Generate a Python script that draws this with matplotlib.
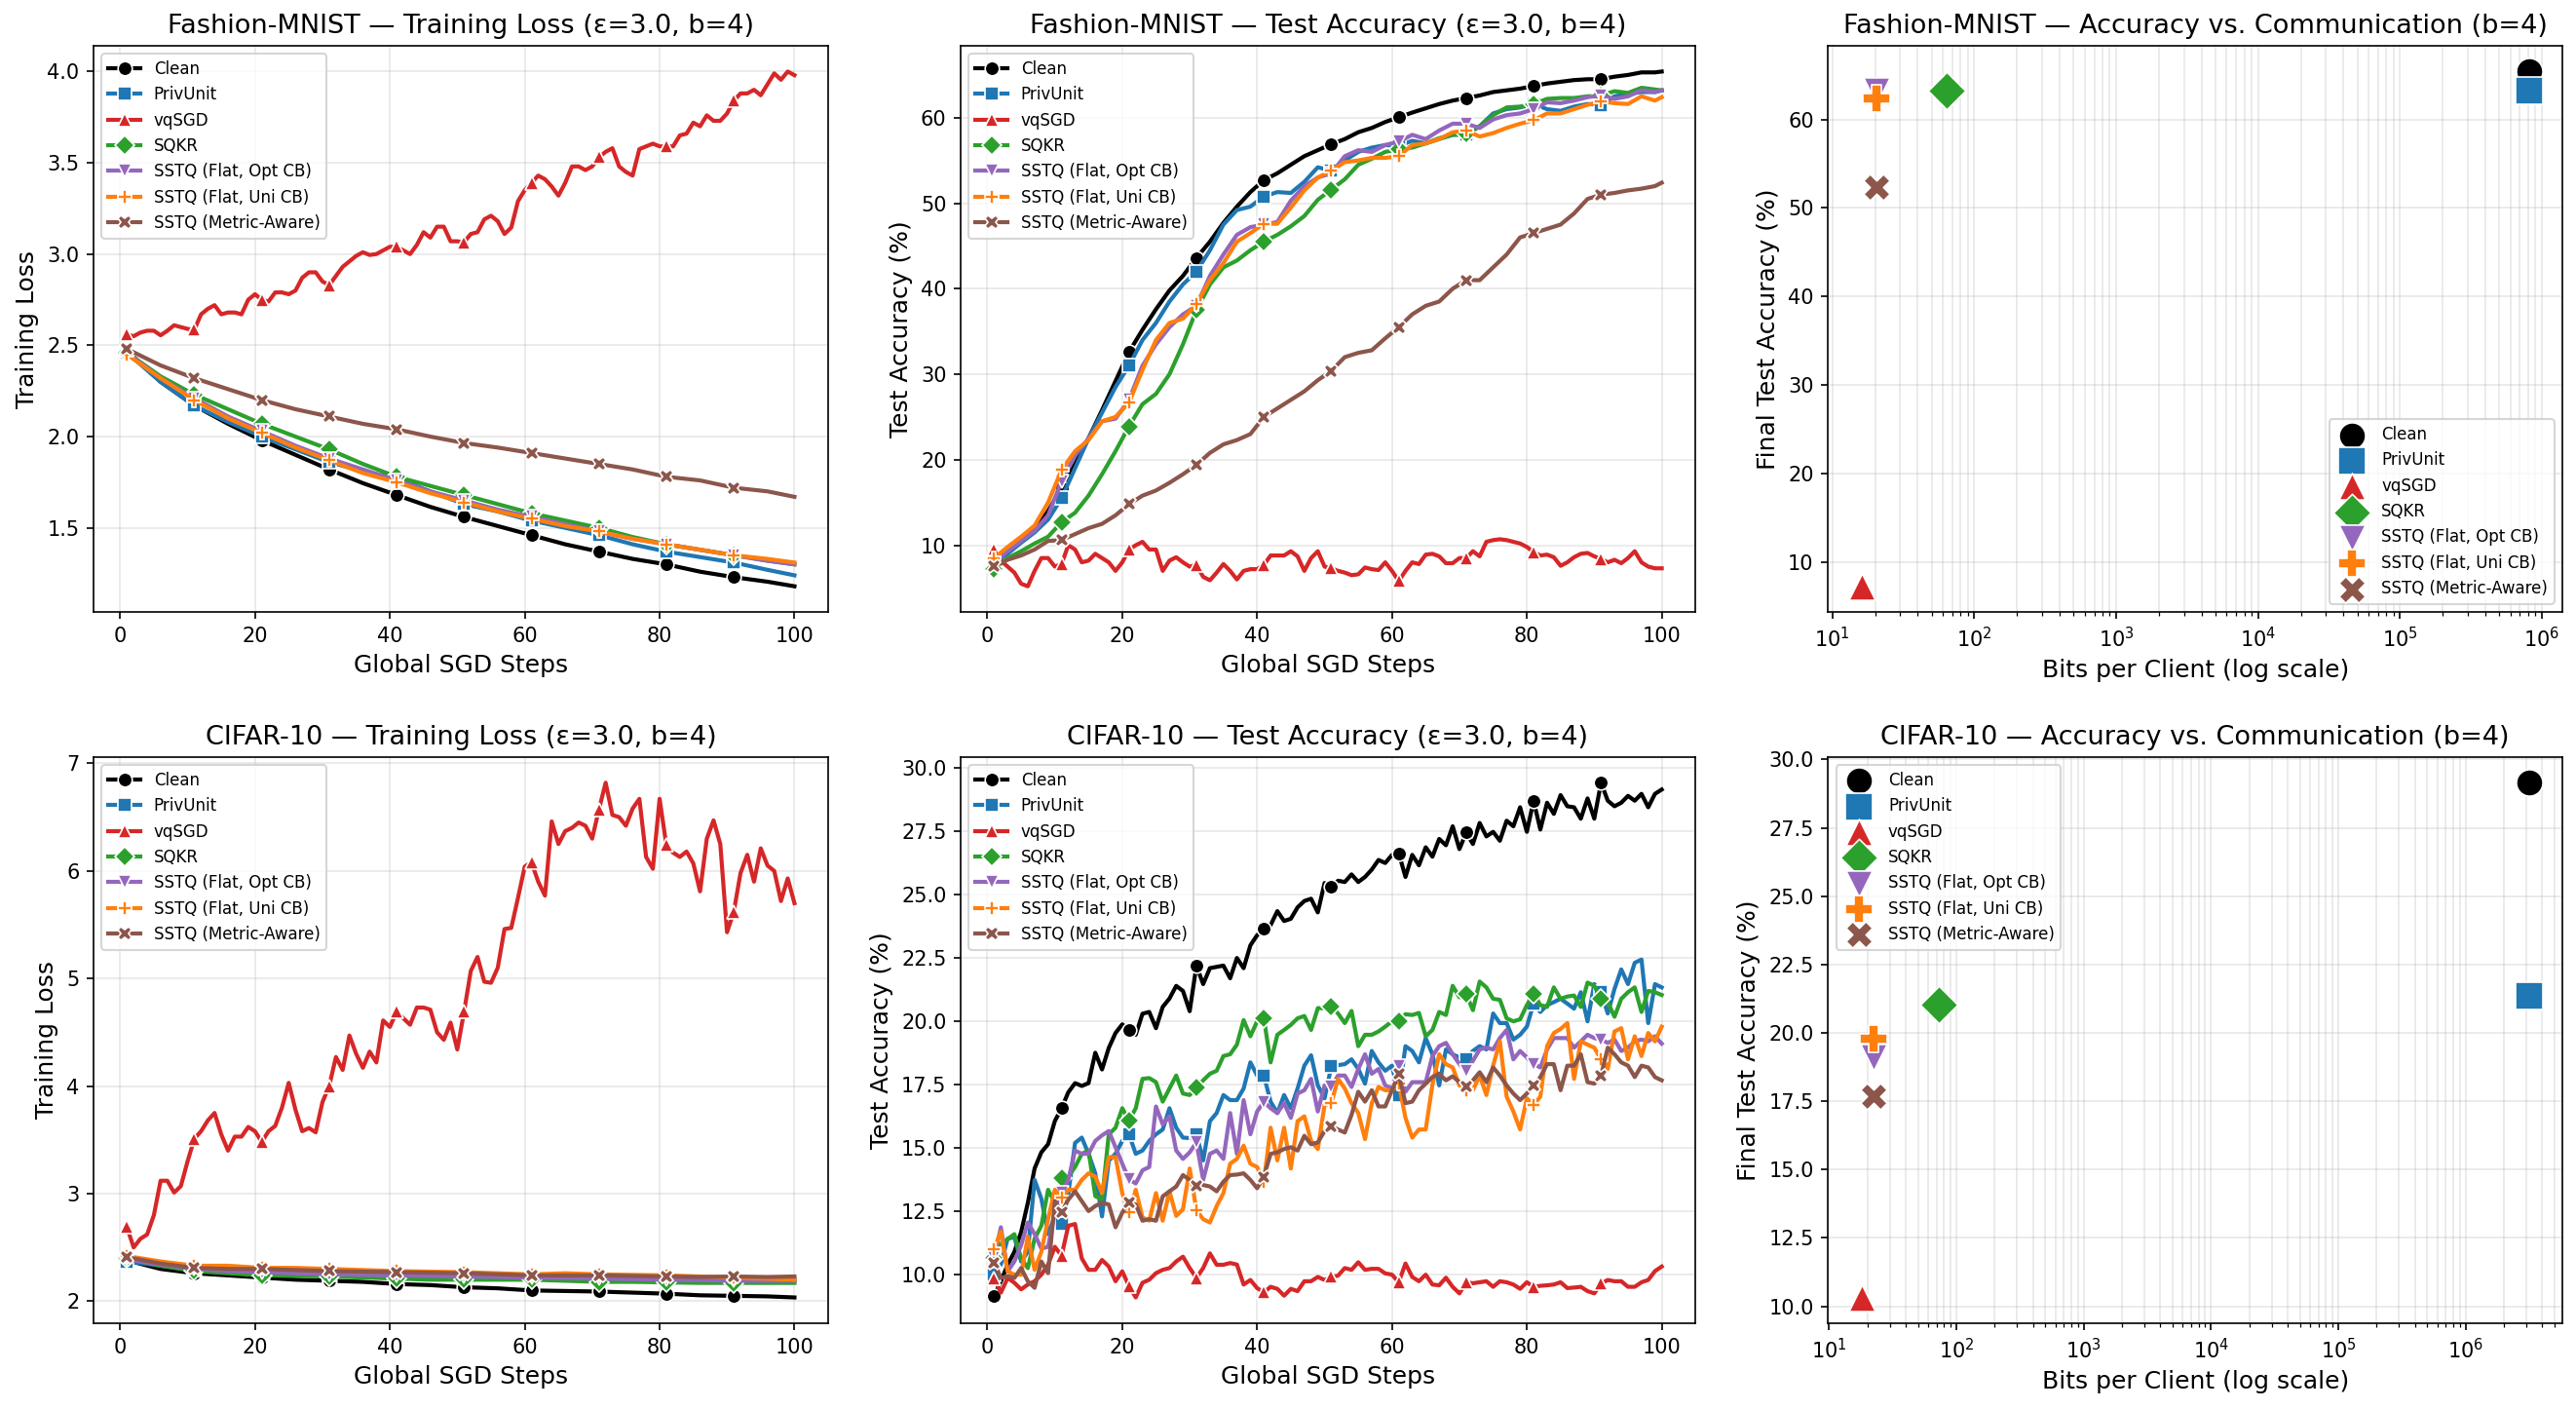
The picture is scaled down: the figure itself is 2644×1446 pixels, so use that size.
import numpy as np
import matplotlib
matplotlib.use("Agg")
import matplotlib.pyplot as plt

# 方法名称 / 样式
METHODS = ["Clean", "PrivUnit", "vqSGD", "SQKR",
           "SSTQ (Flat, Opt CB)", "SSTQ (Flat, Uni CB)", "SSTQ (Metric-Aware)"]
COLORS = ["black", "tab:blue", "tab:red", "tab:green", "tab:purple", "tab:orange", "tab:brown"]
MARKERS = ["o", "s", "^", "D", "v", "P", "X"]

# ---------------- Fashion-MNIST training loss (steps 1,6,...,96,100 ; vqSGD every step)
FM_LOSS_CLEAN = [2.47, 2.30, 2.17, 2.07, 1.98, 1.90, 1.82, 1.745, 1.68, 1.615, 1.56,
                 1.51, 1.46, 1.41, 1.37, 1.33, 1.30, 1.26, 1.23, 1.205, 1.18]
FM_LOSS_PRIVUNIT = [2.46, 2.30, 2.17, 2.08, 2.00, 1.93, 1.86, 1.81, 1.77, 1.70, 1.63,
                    1.59, 1.54, 1.50, 1.46, 1.41, 1.37, 1.34, 1.31, 1.27, 1.24]
FM_LOSS_VQSGD = [2.56, 2.55, 2.57, 2.58, 2.58, 2.555, 2.58, 2.61, 2.60, 2.59,
                 2.585, 2.67, 2.70, 2.72, 2.67, 2.68, 2.68, 2.67, 2.75, 2.78,
                 2.75, 2.74, 2.79, 2.79, 2.78, 2.80, 2.87, 2.90, 2.90, 2.85,
                 2.83, 2.88, 2.93, 2.96, 2.99, 3.01, 2.995, 3.00, 3.02, 3.04,
                 3.04, 3.02, 3.00, 3.05, 3.12, 3.09, 3.15, 3.15, 3.07, 3.07,
                 3.065, 3.11, 3.12, 3.19, 3.21, 3.18, 3.11, 3.145, 3.29, 3.35,
                 3.39, 3.43, 3.41, 3.37, 3.32, 3.39, 3.48, 3.48, 3.46, 3.48,
                 3.53, 3.56, 3.58, 3.48, 3.45, 3.43, 3.575, 3.59, 3.605, 3.59,
                 3.59, 3.59, 3.65, 3.66, 3.72, 3.70, 3.76, 3.73, 3.73, 3.77,
                 3.84, 3.88, 3.88, 3.90, 3.87, 3.93, 3.99, 3.955, 4.00, 3.98]
FM_LOSS_SQKR = [2.46, 2.33, 2.23, 2.15, 2.07, 2.00, 1.93, 1.85, 1.78, 1.73, 1.68,
                1.63, 1.58, 1.54, 1.50, 1.45, 1.41, 1.38, 1.35, 1.32, 1.30]
FM_LOSS_OPT = [2.46, 2.32, 2.21, 2.11, 2.03, 1.95, 1.88, 1.82, 1.76, 1.70, 1.65,
               1.60, 1.56, 1.52, 1.48, 1.44, 1.41, 1.38, 1.35, 1.32, 1.30]
FM_LOSS_UNI = [2.45, 2.32, 2.20, 2.10, 2.02, 1.94, 1.87, 1.80, 1.75, 1.69, 1.64,
               1.59, 1.55, 1.51, 1.48, 1.44, 1.41, 1.38, 1.35, 1.33, 1.31]
FM_LOSS_METRIC = [2.48, 2.39, 2.32, 2.26, 2.20, 2.15, 2.11, 2.07, 2.04, 2.00, 1.965,
                  1.94, 1.91, 1.88, 1.85, 1.82, 1.78, 1.76, 1.72, 1.70, 1.67]

# ---------------- Fashion-MNIST test accuracy (odd steps + 100 ; vqSGD every step)
FM_ACC_CLEAN = [8.3, 9.3, 10.5, 12.0, 14.0, 16.7, 19.5, 22.5, 25.8, 29.2,
                32.6, 35.2, 37.6, 39.8, 41.5, 43.6, 45.5, 47.7, 49.6, 51.3,
                52.7, 53.5, 54.5, 55.5, 56.2, 56.9, 57.5, 58.3, 58.8, 59.5,
                60.05, 60.6, 61.1, 61.6, 62.0, 62.3, 62.6, 63.0, 63.2, 63.4,
                63.7, 64.0, 64.2, 64.4, 64.5, 64.5, 64.8, 65.0, 65.3, 65.3, 65.4]
FM_ACC_PRIVUNIT = [8.0, 9.0, 10.3, 11.5, 13.0, 15.5, 19.0, 22.5, 25.5, 28.5,
                   31.0, 34.0, 36.0, 38.5, 40.5, 42.0, 44.5, 47.5, 49.2, 49.6,
                   50.8, 51.3, 51.2, 52.5, 54.2, 53.8, 55.0, 56.0, 56.5, 56.8,
                   56.7, 57.3, 57.0, 57.5, 58.0, 58.0, 59.0, 60.5, 61.0, 61.2,
                   61.6, 61.0, 60.8, 61.3, 61.6, 61.5, 62.5, 62.8, 63.0, 63.0, 63.2]
FM_ACC_VQSGD = [9.5, 8.2, 7.5, 6.8, 5.5, 5.2, 7.0, 8.5, 8.5, 7.5,
                7.8, 10.0, 9.5, 8.0, 8.2, 9.0, 8.5, 8.0, 7.0, 8.0,
                9.5, 10.0, 10.4, 9.5, 9.5, 7.0, 8.2, 8.6, 8.0, 7.5,
                7.7, 6.3, 5.9, 6.8, 7.8, 7.0, 6.0, 7.0, 7.2, 7.2,
                7.7, 8.8, 8.8, 8.8, 9.3, 8.7, 7.0, 8.5, 9.3, 7.5,
                7.3, 7.0, 6.8, 6.5, 6.6, 7.4, 7.2, 7.1, 8.0, 7.0,
                5.8, 7.0, 8.0, 7.8, 8.9, 9.0, 8.7, 7.9, 7.9, 8.5,
                8.5, 9.3, 8.7, 10.4, 10.6, 10.7, 10.6, 10.4, 10.2, 9.8,
                9.2, 8.8, 8.9, 8.6, 7.6, 8.0, 8.6, 9.0, 9.1, 8.7,
                8.4, 8.0, 8.3, 7.9, 8.5, 9.3, 8.0, 7.5, 7.3, 7.3]
FM_ACC_SQKR = [7.2, 8.5, 9.3, 10.2, 11.0, 12.7, 13.8, 15.8, 18.3, 21.0,
               23.9, 26.5, 27.7, 30.0, 33.5, 37.5, 40.5, 42.5, 43.3, 44.5,
               45.5, 46.3, 47.3, 48.5, 50.4, 51.6, 52.8, 54.5, 55.2, 56.0,
               56.3, 56.5, 57.0, 57.6, 58.0, 58.1, 59.0, 60.3, 61.2, 61.3,
               61.6, 62.2, 62.3, 62.3, 62.5, 62.6, 63.1, 62.9, 63.5, 63.3, 63.2]
FM_ACC_OPT = [8.0, 9.3, 10.5, 11.7, 13.5, 17.5, 20.5, 22.5, 24.5, 24.8,
              27.0, 31.0, 33.5, 35.5, 37.0, 38.0, 41.5, 44.0, 46.3, 47.2,
              47.5, 47.8, 50.3, 52.0, 53.0, 53.5, 55.5, 56.2, 56.0, 56.8,
              57.2, 58.0, 57.5, 58.5, 59.3, 59.3, 58.8, 59.8, 60.3, 60.5,
              61.0, 61.8, 61.7, 62.0, 62.4, 62.6, 62.2, 62.5, 63.2, 63.0, 63.2]
FM_ACC_UNI = [8.5, 9.8, 11.0, 12.3, 15.0, 18.8, 21.0, 22.3, 24.5, 25.0,
              26.7, 30.5, 34.0, 36.0, 36.5, 38.2, 41.0, 43.0, 45.5, 46.5,
              47.6, 47.6, 49.5, 51.5, 53.0, 53.8, 54.8, 55.0, 55.3, 55.3,
              55.5, 56.8, 57.0, 57.5, 58.3, 58.5, 57.8, 58.2, 58.8, 59.3,
              59.7, 60.5, 60.5, 61.0, 61.5, 61.9, 61.7, 61.6, 62.5, 62.0, 62.4]
FM_ACC_METRIC = [7.5, 8.3, 8.8, 9.5, 10.5, 10.6, 11.3, 12.0, 12.5, 13.5,
                 14.8, 15.8, 16.4, 17.3, 18.3, 19.4, 20.8, 21.8, 22.3, 23.0,
                 25.0, 26.0, 27.0, 28.0, 29.3, 30.4, 32.0, 32.5, 32.8, 34.2,
                 35.5, 37.0, 38.0, 38.5, 40.0, 41.0, 41.0, 42.5, 44.0, 46.0,
                 46.5, 47.0, 47.5, 48.8, 50.5, 51.0, 51.2, 51.5, 51.7, 52.0, 52.4]

# ---------------- CIFAR-10 training loss (steps 1,6,...,96,100 ; vqSGD every step)
C10_LOSS_CLEAN = [2.38, 2.30, 2.26, 2.24, 2.22, 2.20, 2.19, 2.18, 2.16, 2.15, 2.13,
                  2.12, 2.10, 2.095, 2.09, 2.08, 2.07, 2.055, 2.05, 2.045, 2.035]
C10_LOSS_PRIVUNIT = [2.37, 2.33, 2.29, 2.27, 2.26, 2.255, 2.25, 2.24, 2.23, 2.225, 2.22,
                     2.215, 2.21, 2.205, 2.20, 2.20, 2.20, 2.195, 2.19, 2.19, 2.19]
C10_LOSS_VQSGD = [2.69, 2.50, 2.58, 2.62, 2.80, 3.12, 3.12, 3.01, 3.07, 3.30,
                  3.51, 3.58, 3.68, 3.75, 3.55, 3.40, 3.53, 3.53, 3.62, 3.58,
                  3.48, 3.58, 3.63, 3.80, 4.03, 3.78, 3.58, 3.61, 3.57, 3.85,
                  4.00, 4.27, 4.15, 4.47, 4.30, 4.17, 4.32, 4.22, 4.61, 4.55,
                  4.69, 4.63, 4.57, 4.73, 4.73, 4.71, 4.50, 4.43, 4.59, 4.34,
                  4.69, 5.07, 5.20, 4.97, 4.96, 5.10, 5.46, 5.47, 5.75, 6.04,
                  6.08, 5.90, 5.77, 6.46, 6.25, 6.37, 6.40, 6.45, 6.42, 6.30,
                  6.57, 6.82, 6.52, 6.50, 6.42, 6.58, 6.67, 6.13, 6.02, 6.67,
                  6.24, 6.17, 6.13, 6.18, 6.07, 5.81, 6.30, 6.47, 6.25, 5.43,
                  5.62, 5.98, 6.15, 5.90, 6.21, 6.05, 6.00, 5.72, 5.93, 5.70]
C10_LOSS_SQKR = [2.40, 2.33, 2.28, 2.26, 2.24, 2.235, 2.23, 2.22, 2.21, 2.20, 2.20,
                 2.20, 2.20, 2.19, 2.18, 2.18, 2.175, 2.17, 2.17, 2.17, 2.17]
C10_LOSS_OPT = [2.39, 2.34, 2.30, 2.28, 2.27, 2.26, 2.25, 2.245, 2.24, 2.235, 2.23,
                2.225, 2.22, 2.215, 2.21, 2.205, 2.20, 2.195, 2.19, 2.19, 2.19]
C10_LOSS_UNI = [2.42, 2.37, 2.33, 2.33, 2.31, 2.31, 2.30, 2.29, 2.28, 2.275, 2.27,
                2.26, 2.25, 2.26, 2.25, 2.245, 2.24, 2.23, 2.22, 2.21, 2.20]
C10_LOSS_METRIC = [2.41, 2.35, 2.31, 2.30, 2.30, 2.29, 2.28, 2.275, 2.27, 2.265, 2.26,
                   2.25, 2.24, 2.24, 2.24, 2.235, 2.23, 2.225, 2.23, 2.225, 2.23]

# ---------------- CIFAR-10 test accuracy (every step)
C10_ACC_CLEAN = [9.16, 9.74, 10.39, 10.9, 11.68, 12.84, 14.19, 14.83, 15.15, 16.06,
                 16.57, 17.2, 17.56, 17.45, 17.56, 18.76, 18.1, 18.95, 19.54, 19.88,
                 19.66, 19.47, 20.3, 20.37, 19.73, 20.57, 20.9, 21.4, 21.2, 20.4,
                 22.2, 21.47, 22.1, 22.15, 22.2, 21.7, 22.5, 22.1, 23.0, 23.4,
                 23.66, 23.8, 24.35, 23.96, 24.05, 24.5, 24.75, 24.84, 24.3, 25.46,
                 25.3, 25.55, 25.5, 25.8, 25.5, 25.7, 25.99, 26.37, 26.25, 26.57,
                 26.64, 25.7, 26.57, 26.16, 26.87, 26.5, 27.2, 26.95, 27.7, 26.8,
                 27.45, 27.0, 27.83, 27.3, 27.48, 27.13, 27.92, 27.7, 28.45, 27.48,
                 28.71, 27.57, 28.63, 28.19, 28.93, 28.49, 28.45, 28.0, 28.8, 28.0,
                 29.42, 28.71, 28.49, 28.63, 28.9, 28.71, 28.98, 28.45, 28.98, 29.15]
C10_ACC_PRIVUNIT = [10.0, 10.4, 11.42, 11.48, 10.52, 10.9, 13.74, 13.0, 11.6, 12.3,
                    12.0, 13.2, 15.2, 15.41, 14.77, 14.0, 12.3, 14.5, 14.77, 15.28,
                    15.54, 14.77, 14.9, 15.28, 15.54, 15.73, 16.57, 15.8, 15.41, 15.39,
                    15.54, 14.51, 16.06, 16.38, 17.09, 16.89, 16.89, 17.35, 18.38, 17.86,
                    17.86, 16.83, 16.38, 17.09, 16.57, 17.35, 18.25, 18.66, 17.47, 16.96,
                    18.22, 18.27, 18.31, 18.5, 18.12, 17.54, 18.83, 18.38, 18.05, 18.25,
                    17.09, 19.02, 18.83, 18.38, 19.34, 18.7, 17.47, 18.89, 18.7, 18.57,
                    18.5, 18.83, 19.02, 18.89, 20.31, 19.93, 19.93, 19.28, 19.47, 19.79,
                    20.7, 20.37, 20.64, 20.76, 20.89, 20.7, 20.5, 21.15, 20.0, 21.47,
                    21.15, 20.31, 21.28, 22.05, 21.47, 22.31, 22.44, 19.93, 21.47, 21.34]
C10_ACC_VQSGD = [9.87, 9.29, 9.87, 9.68, 9.42, 9.61, 9.74, 10.0, 10.39, 11.1,
                 10.75, 11.93, 12.0, 10.64, 10.19, 10.19, 10.58, 10.32, 9.74, 10.13,
                 9.55, 9.1, 9.68, 9.8, 10.06, 10.19, 10.26, 10.52, 10.71, 10.26,
                 9.87, 10.26, 10.84, 10.39, 10.39, 10.46, 10.4, 9.61, 9.79, 9.47,
                 9.3, 9.52, 9.44, 9.17, 9.44, 9.35, 9.74, 9.74, 9.91, 9.79,
                 9.91, 9.96, 10.26, 10.19, 10.49, 10.19, 10.23, 10.23, 10.05, 10.0,
                 9.7, 10.44, 9.91, 9.74, 10.0, 9.61, 9.58, 9.88, 9.52, 9.26,
                 9.7, 9.66, 9.7, 9.74, 9.52, 9.74, 9.7, 9.61, 9.44, 9.7,
                 9.52, 9.56, 9.58, 9.61, 9.7, 9.47, 9.49, 9.52, 9.35, 9.26,
                 9.65, 9.79, 9.74, 9.74, 9.52, 9.52, 9.7, 9.79, 10.14, 10.32]
C10_ACC_SQKR = [10.64, 11.22, 11.4, 11.6, 10.64, 10.26, 11.42, 11.93, 13.35, 12.84,
                13.8, 13.87, 14.25, 14.77, 14.9, 13.1, 12.97, 15.54, 15.8, 16.57,
                16.08, 16.57, 17.73, 17.76, 17.6, 16.83, 17.35, 17.86, 17.15, 17.09,
                17.38, 17.67, 17.93, 18.05, 18.63, 18.7, 19.08, 20.05, 19.41, 20.0,
                20.12, 18.38, 19.47, 19.66, 19.86, 20.12, 20.21, 19.66, 20.52, 20.52,
                20.6, 20.31, 19.93, 20.41, 19.02, 19.47, 19.47, 19.6, 19.79, 20.0,
                20.0, 20.28, 20.25, 20.33, 19.41, 19.66, 20.37, 20.25, 21.4, 20.95,
                21.08, 20.44, 21.57, 21.34, 20.89, 20.85, 20.12, 20.0, 20.08, 20.64,
                21.08, 20.64, 20.57, 21.34, 20.89, 20.98, 21.02, 20.57, 21.53, 21.4,
                20.89, 20.76, 20.18, 20.89, 21.15, 21.34, 20.37, 21.2, 21.15, 21.04]
C10_ACC_OPT = [10.7, 11.87, 10.13, 10.52, 11.16, 12.06, 11.6, 11.03, 11.1, 12.45,
               13.22, 13.74, 14.9, 14.77, 14.77, 15.28, 15.5, 15.67, 15.03, 14.38,
               13.76, 13.6, 14.12, 14.25, 16.64, 15.93, 16.25, 14.9, 14.57, 14.83,
               15.22, 13.74, 14.77, 14.9, 14.57, 16.38, 14.77, 16.89, 15.54, 16.44,
               16.83, 16.57, 16.38, 16.77, 16.19, 17.15, 17.28, 17.73, 16.44, 17.47,
               17.41, 17.86, 17.86, 17.41, 18.12, 18.7, 17.93, 18.12, 17.47, 17.35,
               18.25, 17.22, 17.6, 17.6, 17.6, 18.63, 19.02, 19.15, 18.7, 18.31,
               18.05, 18.44, 18.89, 18.96, 18.89, 19.34, 19.66, 18.5, 18.83, 18.57,
               18.31, 18.18, 18.89, 19.34, 19.34, 19.34, 18.96, 19.21, 19.47, 19.34,
               19.28, 19.15, 19.28, 18.83, 18.96, 19.21, 19.28, 19.21, 19.41, 19.12]
C10_ACC_UNI = [11.0, 11.7, 10.13, 10.0, 10.0, 11.5, 10.19, 10.9, 12.2, 13.35,
               13.03, 13.35, 13.35, 13.74, 14.0, 13.87, 13.22, 14.64, 14.64, 13.22,
               12.45, 13.35, 12.26, 12.13, 13.22, 12.13, 13.29, 12.32, 12.58, 14.19,
               12.54, 12.19, 12.06, 12.71, 13.22, 14.38, 14.57, 15.09, 14.38, 14.25,
               13.67, 15.8, 14.51, 15.8, 14.19, 16.06, 16.25, 15.28, 14.96, 16.7,
               16.77, 17.73, 17.35, 16.77, 16.38, 15.35, 16.77, 17.41, 17.28, 17.28,
               17.54, 16.19, 15.41, 15.73, 15.73, 17.5, 18.7, 18.31, 18.18, 17.47,
               17.28, 17.28, 17.86, 17.09, 18.25, 19.21, 17.03, 16.44, 15.73, 16.96,
               16.7, 17.03, 19.02, 19.54, 19.7, 19.93, 17.73, 19.21, 19.08, 18.96,
               18.5, 18.12, 19.6, 19.73, 18.5, 19.41, 18.63, 19.54, 19.21, 19.79]
C10_ACC_METRIC = [10.45, 9.87, 9.94, 9.87, 10.26, 9.74, 9.48, 10.52, 10.06, 12.9,
                  12.47, 12.96, 13.29, 12.9, 12.51, 12.71, 12.84, 12.77, 11.87, 12.45,
                  12.84, 12.77, 12.13, 12.19, 12.13, 13.09, 13.29, 13.48, 13.93, 13.74,
                  13.52, 13.54, 13.48, 13.29, 13.67, 13.93, 13.95, 14.0, 13.74, 13.41,
                  13.87, 14.77, 14.83, 14.96, 15.03, 14.9, 15.48, 15.15, 15.22, 15.67,
                  15.86, 15.73, 15.61, 16.31, 17.22, 16.83, 17.28, 16.64, 16.64, 17.28,
                  17.93, 16.77, 16.83, 17.28, 17.54, 17.8, 17.93, 17.67, 17.83, 17.6,
                  17.41, 17.67, 17.99, 17.6, 18.18, 17.86, 17.47, 17.15, 16.89, 17.15,
                  17.47, 17.8, 18.31, 18.31, 17.28, 18.25, 18.25, 18.7, 17.6, 17.54,
                  17.86, 18.96, 18.7, 18.38, 18.25, 17.8, 18.25, 18.18, 17.8, 17.67]

# 每个客户端的通信比特数
FM_BITS = [8.1e5, 8.1e5, 16, 64, 20.4, 20.4, 20.4]
C10_BITS = [3.15e6, 3.15e6, 18, 73, 22.3, 22.3, 22.3]

FM_LOSS = [FM_LOSS_CLEAN, FM_LOSS_PRIVUNIT, FM_LOSS_VQSGD, FM_LOSS_SQKR,
           FM_LOSS_OPT, FM_LOSS_UNI, FM_LOSS_METRIC]
FM_ACC = [FM_ACC_CLEAN, FM_ACC_PRIVUNIT, FM_ACC_VQSGD, FM_ACC_SQKR,
          FM_ACC_OPT, FM_ACC_UNI, FM_ACC_METRIC]
C10_LOSS = [C10_LOSS_CLEAN, C10_LOSS_PRIVUNIT, C10_LOSS_VQSGD, C10_LOSS_SQKR,
            C10_LOSS_OPT, C10_LOSS_UNI, C10_LOSS_METRIC]
C10_ACC = [C10_ACC_CLEAN, C10_ACC_PRIVUNIT, C10_ACC_VQSGD, C10_ACC_SQKR,
           C10_ACC_OPT, C10_ACC_UNI, C10_ACC_METRIC]


def steps_for(vals):
    """根据数据长度返回对应的步数"""
    n = len(vals)
    if n == 100:
        return np.arange(1, 101)
    if n == 51:
        return np.r_[np.arange(1, 100, 2), 100]
    return np.r_[np.arange(1, 100, 5), 100]


def plot_curves(ax, series, title, ylabel):
    for name, vals, c, m in zip(METHODS, series, COLORS, MARKERS):
        steps = steps_for(vals)
        mk = [i for i, s in enumerate(steps) if s % 10 == 1]
        ax.plot(steps, vals, color=c, marker=m, markevery=mk, lw=2, ms=7,
                mec="white", mew=0.8, label=name)
    ax.set_title(title, fontsize=13)
    ax.set_xlabel("Global SGD Steps", fontsize=12)
    ax.set_ylabel(ylabel, fontsize=12)
    ax.grid(True, alpha=0.3)
    ax.legend(loc="upper left", fontsize=8)


def plot_comm(ax, bits, accs, title, loc):
    for name, b, vals, c, m in zip(METHODS, bits, accs, COLORS, MARKERS):
        ax.scatter(b, vals[-1], s=170, color=c, marker=m, edgecolor="white",
                   linewidth=0.8, label=name, zorder=3)
    ax.set_xscale("log")
    ax.set_title(title, fontsize=13)
    ax.set_xlabel("Bits per Client (log scale)", fontsize=12)
    ax.set_ylabel("Final Test Accuracy (%)", fontsize=12)
    ax.grid(True, which="both", alpha=0.3)
    ax.legend(loc=loc, fontsize=8)


fig, axes = plt.subplots(2, 3, figsize=(2644 / 150, 1446 / 150), dpi=150)
fig.subplots_adjust(left=0.0363, right=0.9947, top=0.9675, bottom=0.0609,
                    wspace=0.181, hspace=0.256)

plot_curves(axes[0, 0], FM_LOSS, "Fashion-MNIST — Training Loss (ε=3.0, b=4)", "Training Loss")
plot_curves(axes[0, 1], FM_ACC, "Fashion-MNIST — Test Accuracy (ε=3.0, b=4)", "Test Accuracy (%)")
plot_comm(axes[0, 2], FM_BITS, FM_ACC, "Fashion-MNIST — Accuracy vs. Communication (b=4)", "lower right")
plot_curves(axes[1, 0], C10_LOSS, "CIFAR-10 — Training Loss (ε=3.0, b=4)", "Training Loss")
plot_curves(axes[1, 1], C10_ACC, "CIFAR-10 — Test Accuracy (ε=3.0, b=4)", "Test Accuracy (%)")
plot_comm(axes[1, 2], C10_BITS, C10_ACC, "CIFAR-10 — Accuracy vs. Communication (b=4)", "upper left")

fig.savefig("out.png", dpi=150)
